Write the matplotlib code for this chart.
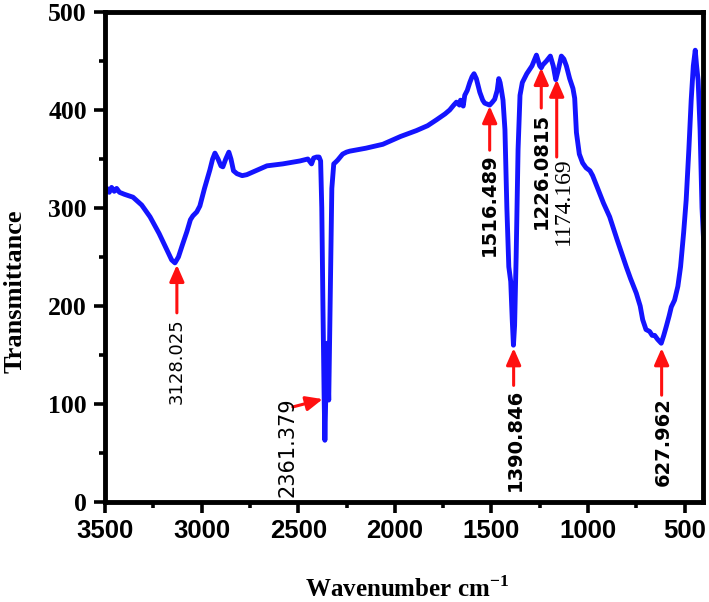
import matplotlib
matplotlib.use('Agg')
import matplotlib.pyplot as plt
from matplotlib.ticker import MultipleLocator

plt.rcParams['mathtext.fontset'] = 'custom'
plt.rcParams['mathtext.rm'] = 'Liberation Serif:bold'
plt.rcParams['mathtext.bf'] = 'Liberation Serif:bold'

# FTIR spectrum (wavenumber cm-1, transmittance)
wavenumber = [3500, 3490, 3478, 3466, 3452, 3440, 3425, 3400, 3355, 3310,
              3267, 3220, 3179, 3155, 3138, 3120, 3100, 3076, 3058, 3045,
              3025, 3009, 2985, 2957, 2943, 2931, 2915, 2900, 2890, 2875,
              2859, 2848, 2835, 2817, 2790, 2766, 2720, 2662, 2580, 2491,
              2450, 2431, 2420, 2405, 2392, 2384, 2378, 2372, 2366, 2362,
              2356, 2350, 2342, 2335, 2326, 2316, 2305, 2295, 2270, 2250,
              2233, 2150, 2062, 1970, 1888, 1830, 1784, 1740, 1716, 1695,
              1681, 1665, 1660, 1646, 1638, 1625, 1612, 1600, 1590, 1578,
              1560, 1545, 1535, 1509, 1495, 1483, 1470, 1462, 1455, 1448,
              1440, 1430, 1420, 1410, 1400, 1392, 1386, 1380, 1372, 1362,
              1352, 1340, 1317, 1290, 1267, 1250, 1242, 1234, 1215, 1195,
              1180, 1167, 1155, 1138, 1125, 1112, 1095, 1078, 1069, 1060,
              1045, 1028, 1010, 990, 976, 950, 920, 888, 850, 802,
              780, 750, 730, 717, 700, 681, 668, 655, 640, 621,
              608, 595, 580, 569, 552, 535, 521, 505, 492, 478,
              466, 455, 445, 438, 430, 420, 410, 400]
transmittance = [316, 320, 316, 321, 317, 320, 316, 314, 311, 303,
                 291, 274, 257, 247, 244, 250, 262, 276, 288, 292,
                 296, 302, 320, 339, 350, 356, 350, 343, 342, 350,
                 357, 350, 338, 335, 333, 334, 338, 343, 345, 348,
                 350, 345, 351, 352, 352, 348, 300, 200, 110, 63,
                 120, 162, 104, 200, 320, 345, 347, 349, 355, 357,
                 358, 361, 365, 373, 379, 384, 390, 396, 400, 405,
                 408, 405, 410, 404, 415, 420, 428, 434, 437, 432,
                 418, 410, 407, 405, 408, 411, 420, 432, 428, 420,
                 410, 380, 300, 240, 225, 185, 160, 180, 250, 360,
                 415, 428, 437, 445, 456, 445, 443, 446, 450, 455,
                 445, 431, 440, 455, 452, 445, 432, 422, 412, 377,
                 355, 346, 341, 338, 333, 320, 305, 291, 268, 240,
                 228, 213, 200, 186, 176, 174, 170, 170, 166, 162,
                 170, 179, 190, 199, 206, 220, 240, 275, 308, 360,
                 410, 445, 461, 445, 430, 380, 300, 260]

# marked bands
peak_labels = ['3128.025', '2361.379', '1516.489', '1390.846',
               '1226.0815', '1174.169', '627.962']
peak_x = [3128, 2373, 1509, 1385, 1242, 1162, 619]
peak_y = [242, 105, 404, 157, 443, 431, 157]

# layout of the arrows / labels (tail x, tail y, text x, text top y, style)
arrow_tail = [(3128, 193), (2528, 97), (1509, 359), (1385, 119),
              (1242, 402), (1162, 352), (619, 109)]
text_pos = [(3128, 188), (2553, 107), (1509, 356), (1375, 116),
            (1240, 397), (1126, 352), (609, 107)]
text_style = [dict(family='DejaVu Sans', size=13),
              dict(family='DejaVu Sans', size=15),
              dict(family='DejaVu Sans', size=14, weight='bold'),
              dict(family='DejaVu Sans', size=14, weight='bold'),
              dict(family='DejaVu Sans', size=14, weight='bold'),
              dict(family='Liberation Serif', size=17),
              dict(family='DejaVu Sans', size=14, weight='bold')]

fig = plt.figure(figsize=(7.09, 6.02), dpi=100)
ax = fig.add_axes([0.1481, 0.1661, 0.8434, 0.814])

ax.plot(wavenumber, transmittance, color='#1414ff', lw=3.5,
        solid_joinstyle='round', solid_capstyle='round')

for lab, px, py, tail, tp, st in zip(peak_labels, peak_x, peak_y,
                                     arrow_tail, text_pos, text_style):
    ax.annotate('', xy=(px, py), xytext=tail,
                arrowprops=dict(arrowstyle='-|>,head_length=0.5,head_width=0.22',
                                color='#ff1010', lw=2.2, mutation_scale=20,
                                shrinkA=0, shrinkB=0))
    ax.text(tp[0], tp[1], lab, rotation=90, ha='center', va='top', **st)

ax.set_xlim(3500, 405)
ax.set_ylim(0, 500)
ax.xaxis.set_major_locator(MultipleLocator(500))
ax.xaxis.set_minor_locator(MultipleLocator(250))
ax.yaxis.set_major_locator(MultipleLocator(100))
ax.yaxis.set_minor_locator(MultipleLocator(50))

for sp in ax.spines.values():
    sp.set_linewidth(3.5)
ax.tick_params(which='major', direction='out', length=8, width=2.6)
ax.tick_params(which='minor', direction='out', length=4.5, width=2.6)
ax.tick_params(axis='x', pad=4)
ax.tick_params(axis='y', pad=5)

for t in ax.get_xticklabels():
    t.set_fontfamily('Liberation Sans')
    t.set_fontweight('bold')
    t.set_fontsize(18.5)
for t in ax.get_yticklabels():
    t.set_fontfamily('Liberation Serif')
    t.set_fontweight('bold')
    t.set_fontsize(18.5)

ax.set_xlabel(r'Wavenumber cm$^{\mathbf{-1}}$', family='Liberation Serif',
              weight='bold', size=18, va='top')
ax.xaxis.set_label_coords(0.505, -0.152)
ax.set_ylabel('Transmittance', family='Liberation Serif', weight='bold',
              size=19, va='center')
ax.yaxis.set_label_coords(-0.150, 0.43)

fig.savefig('out.png', dpi=100)
